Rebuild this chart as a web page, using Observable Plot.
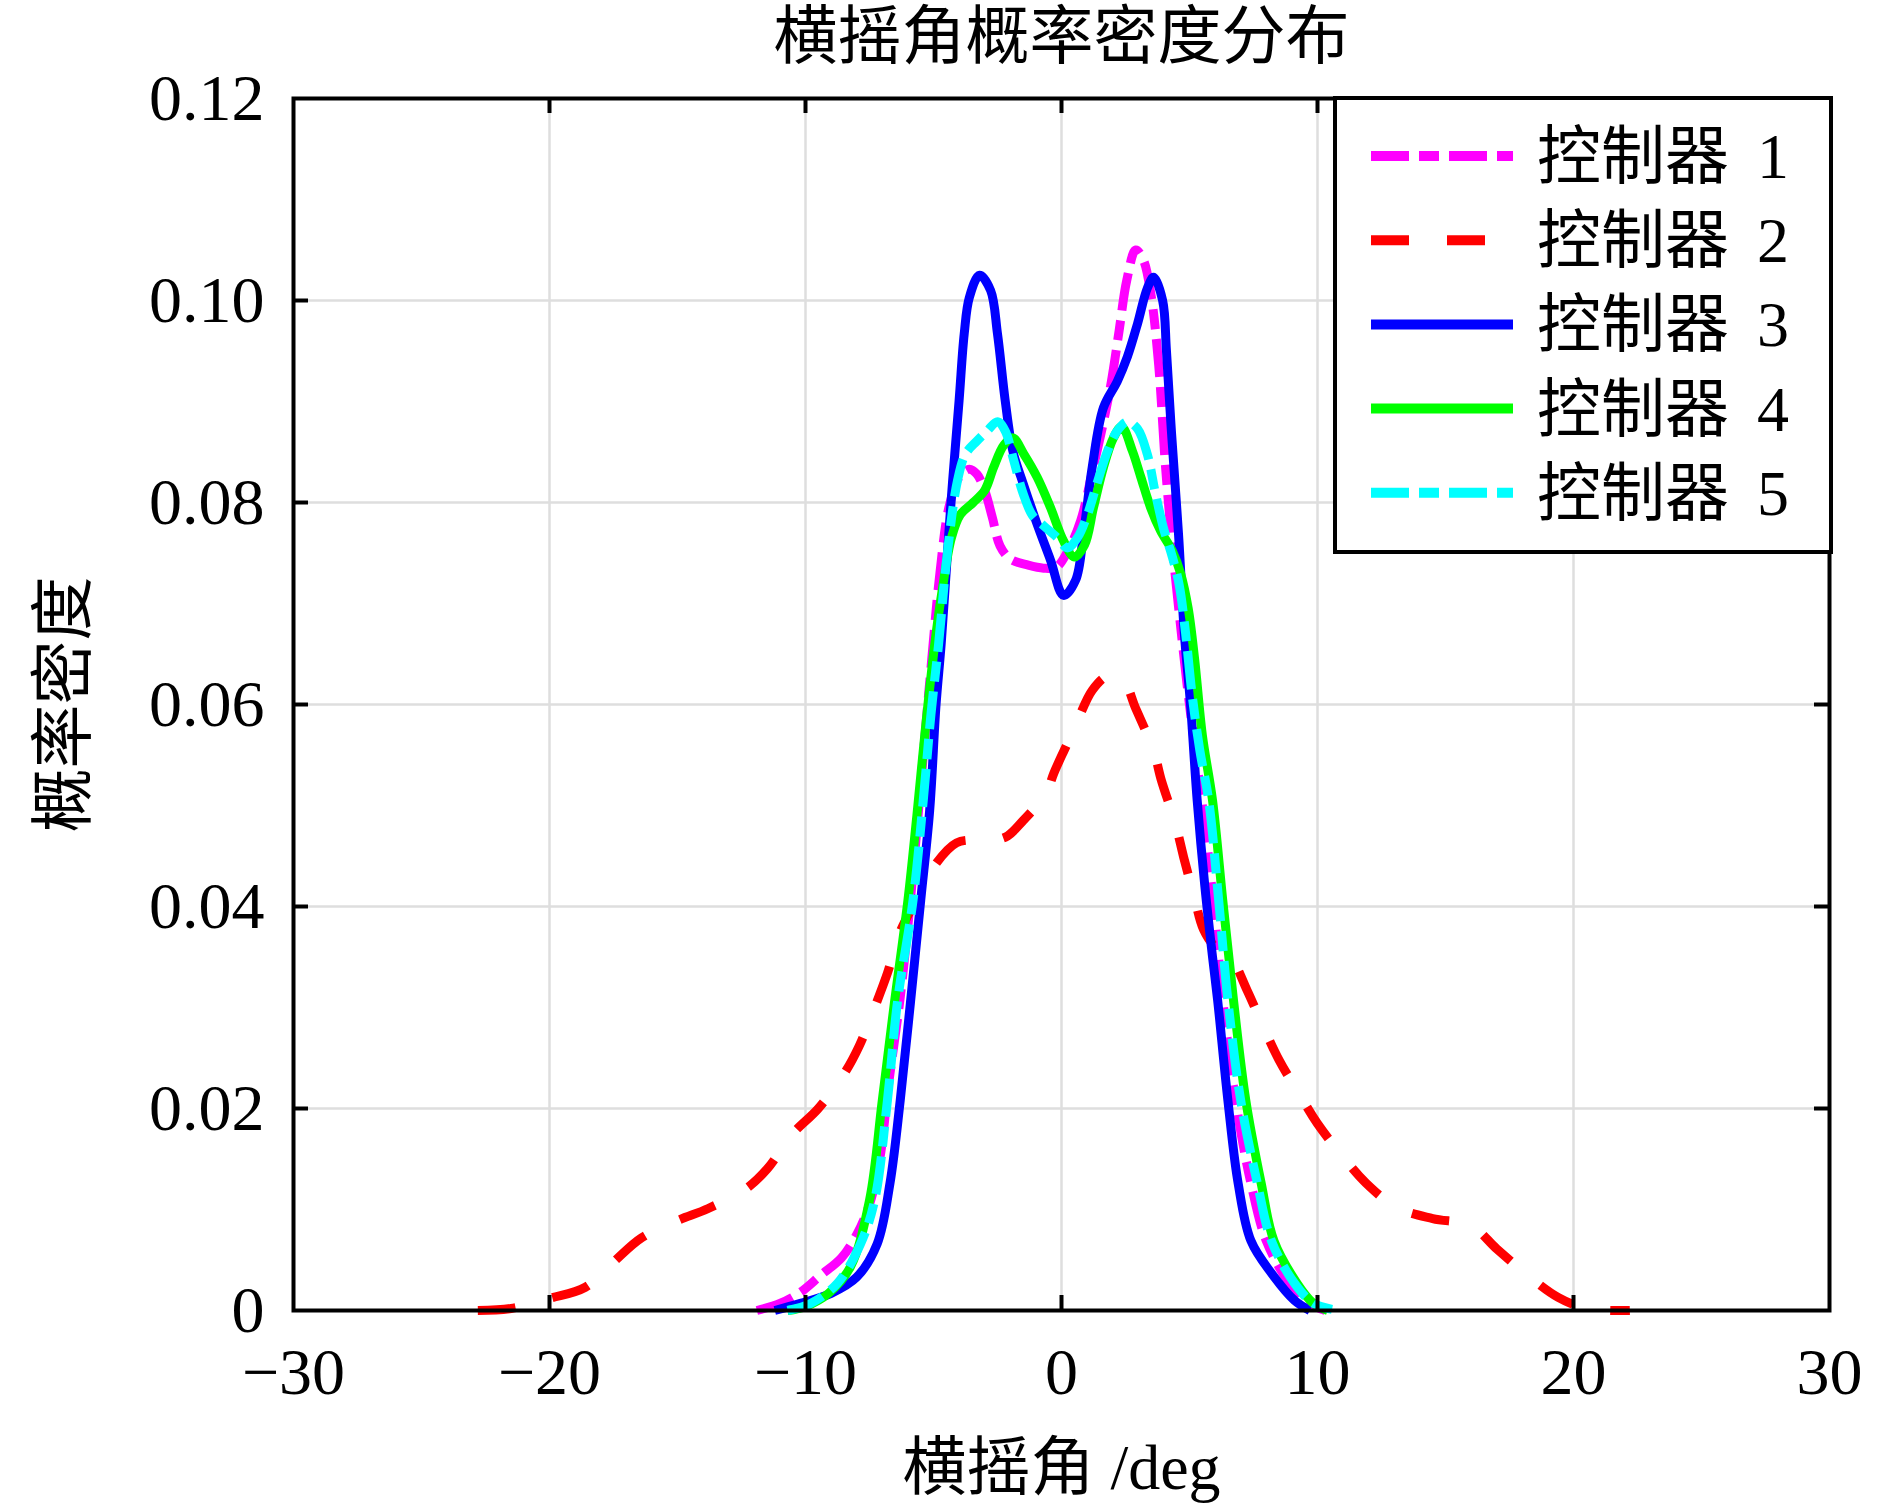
<!DOCTYPE html>
<html><head><meta charset="utf-8">
<script src="https://cdn.jsdelivr.net/npm/d3@7"></script>
<script src="https://cdn.jsdelivr.net/npm/@observablehq/plot@0.6"></script>
<style>
html,body{margin:0;padding:0;background:#fff;overflow:hidden;}
#wrap{position:relative;width:1890px;height:1507px;}
#legend{position:absolute;left:1333px;top:96px;}
</style></head><body>
<div id="wrap"></div>
<script>
// ---- tick values / labels ----
const xTicks = [-30, -20, -10, 0, 10, 20, 30];
const yTicks = [0, 0.02, 0.04, 0.06, 0.08, 0.10, 0.12];
const xGrid = [-20, -10, 0, 10, 20];
const yGrid = [0.02, 0.04, 0.06, 0.08, 0.10];
const titleText = "横摇角概率密度分布";
const xLabelText = "横摇角 /deg";
const yLabelText = "概率密度";
const seriesNames = ["控制器 1", "控制器 2", "控制器 3", "控制器 4", "控制器 5"];
const seriesColors = ["#ff00ff", "#ff0000", "#0000ff", "#00ff00", "#00ffff"];
const seriesDash = ["38,10,20,10", "38,38", null, null, "38,10,20,10"];

// ---- series values [angle deg, density] ----
const ctrl1 = [[-11.9,0],[-11.0,0.0007],[-10.2,0.0018],[-9.4,0.0035],[-8.6,0.0052],[-8.0,0.0075],[-7.5,0.0105],[-7.1,0.0150],[-6.75,0.0225],[-6.3,0.0310],[-5.85,0.0420],[-5.45,0.0535],[-5.05,0.0650],[-4.75,0.0730],[-4.4,0.0795],[-4.0,0.0825],[-3.6,0.0833],[-3.3,0.0828],[-3.0,0.0812],[-2.7,0.0785],[-2.4,0.0757],[-2.0,0.0744],[-1.3,0.0738],[-0.7,0.0735],[-0.2,0.0736],[0.25,0.0752],[0.75,0.0782],[1.2,0.0830],[1.6,0.0875],[1.95,0.0920],[2.25,0.0970],[2.55,0.1020],[2.9,0.1050],[3.2,0.1040],[3.5,0.1005],[3.8,0.0935],[4.05,0.0840],[4.3,0.0765],[4.6,0.0690],[4.95,0.0610],[5.3,0.0540],[5.6,0.0480],[5.95,0.0400],[6.3,0.0307],[6.8,0.0208],[7.4,0.0126],[8.0,0.0069],[8.9,0.0027],[9.6,0.0008],[10.3,0]];
const ctrl2 = [[-22.8,0],[-21.5,0.0002],[-20,0.0012],[-18.6,0.0023],[-17.5,0.0048],[-16.4,0.0072],[-15,0.0089],[-13.8,0.0101],[-12.3,0.0121],[-11.5,0.0140],[-10.5,0.0175],[-9.5,0.0200],[-8.5,0.0234],[-7.9,0.0262],[-7.3,0.0300],[-6.8,0.0334],[-6.3,0.0375],[-5.6,0.0410],[-5.0,0.0439],[-4.1,0.0463],[-3.3,0.0466],[-2.6,0.0466],[-2.1,0.0470],[-1.5,0.0485],[-0.6,0.0512],[-0.3,0.0532],[0.2,0.0560],[0.66,0.0586],[1.2,0.0614],[1.8,0.0628],[2.4,0.0624],[2.9,0.0596],[3.6,0.0554],[3.9,0.0525],[4.45,0.0482],[4.77,0.0449],[5.17,0.0411],[5.55,0.0377],[6.0,0.0360],[6.6,0.0350],[7.25,0.0317],[7.9,0.0280],[8.5,0.0248],[9.27,0.0215],[10,0.0185],[11,0.0152],[11.9,0.0126],[13.1,0.0102],[14.5,0.0091],[16,0.0084],[17,0.0061],[18.2,0.0035],[19.4,0.0013],[20.5,0.0002],[22.2,0]];
const ctrl3 = [[-11.2,0],[-10.2,0.0007],[-9.0,0.0017],[-8.0,0.0033],[-7.2,0.0066],[-6.7,0.0126],[-6.3,0.0208],[-5.9,0.0305],[-5.5,0.0406],[-5.15,0.0495],[-4.9,0.0600],[-4.7,0.0660],[-4.45,0.0752],[-4.26,0.0819],[-4.0,0.0901],[-3.8,0.0967],[-3.6,0.1003],[-3.2,0.1025],[-2.77,0.1010],[-2.5,0.0967],[-2.2,0.0901],[-1.9,0.0851],[-1.5,0.0819],[-1.0,0.0782],[-0.43,0.0743],[0.08,0.0708],[0.55,0.0723],[0.86,0.0769],[1.2,0.0835],[1.64,0.0894],[2.18,0.0920],[2.57,0.0944],[2.97,0.0977],[3.35,0.1012],[3.6,0.1023],[3.95,0.1000],[4.1,0.0950],[4.3,0.0868],[4.57,0.0769],[4.8,0.0670],[5.04,0.0600],[5.3,0.0505],[5.6,0.0420],[5.9,0.0350],[6.1,0.0307],[6.5,0.0208],[6.9,0.0126],[7.4,0.0069],[8.2,0.0037],[9.1,0.0010],[9.7,0]];
const ctrl4 = [[-10.7,0],[-10.0,0.0004],[-9.1,0.0017],[-8.25,0.0043],[-7.5,0.0109],[-7.0,0.0208],[-6.55,0.0300],[-6.0,0.0406],[-5.65,0.0490],[-5.3,0.0580],[-4.95,0.0660],[-4.65,0.0715],[-4.3,0.0765],[-3.95,0.0788],[-3.45,0.0800],[-3.0,0.0812],[-2.65,0.0835],[-2.25,0.0857],[-1.9,0.0864],[-1.47,0.0848],[-0.95,0.0825],[-0.43,0.0795],[0.08,0.0762],[0.5,0.0746],[0.9,0.0758],[1.25,0.0795],[1.64,0.0835],[2.03,0.0864],[2.35,0.0875],[2.77,0.0851],[3.1,0.0825],[3.48,0.0795],[3.87,0.0772],[4.33,0.0752],[4.65,0.0730],[4.95,0.0695],[5.2,0.0645],[5.5,0.0570],[5.9,0.0505],[6.3,0.0406],[6.72,0.0307],[7.2,0.0208],[7.8,0.0126],[8.3,0.0069],[9.2,0.0027],[9.8,0.0008],[10.4,0]];
const ctrl5 = [[-10.7,0],[-9.8,0.0007],[-8.75,0.0027],[-7.85,0.0066],[-7.3,0.0109],[-6.8,0.0208],[-6.4,0.0307],[-5.8,0.0406],[-5.4,0.0505],[-5.1,0.0590],[-4.8,0.0660],[-4.45,0.0752],[-4.06,0.0822],[-3.75,0.0848],[-3.3,0.0861],[-2.9,0.0871],[-2.5,0.0880],[-2.2,0.0871],[-1.87,0.0842],[-1.5,0.0809],[-1.13,0.0787],[-0.7,0.0777],[-0.16,0.0765],[0.23,0.0755],[0.62,0.0765],[1.0,0.0787],[1.4,0.0820],[1.8,0.0851],[2.18,0.0871],[2.57,0.0880],[2.97,0.0873],[3.35,0.0848],[3.67,0.0809],[3.98,0.0775],[4.33,0.0746],[4.6,0.0718],[4.85,0.0670],[5.1,0.0610],[5.4,0.0555],[5.75,0.0505],[6.14,0.0406],[6.5,0.0307],[7.0,0.0208],[7.65,0.0126],[8.2,0.0069],[9.1,0.0027],[9.85,0.0007],[10.8,0]];
const allSeries = [ctrl1, ctrl2, ctrl3, ctrl4, ctrl5];

// ---- layout ----
const W = 1890, H = 1507, mL = 293, mR = 61, mT = 98, mB = 197;
const innerW = W - mL - mR, innerH = H - mT - mB;
const serif = "'Liberation Serif','Noto Sans CJK SC',serif";
const cjk = "'Liberation Serif','Noto Sans CJK SC',sans-serif";
const LW = 9, TL = 15;

const lineMarks = allSeries.map((s, i) => Plot.line(s, {
  x: d => d[0], y: d => d[1],
  stroke: seriesColors[i], strokeWidth: LW,
  strokeDasharray: seriesDash[i] || undefined,
  strokeLinecap: "butt", strokeLinejoin: "round",
  curve: "catmull-rom"
}));

const fmtX = d => d < 0 ? "\u2212" + Math.abs(d) : String(d);
const fmtY = d => d === 0 ? "0" : d.toFixed(2);

const chart = Plot.plot({
  width: W, height: H,
  marginLeft: mL, marginRight: mR, marginTop: mT, marginBottom: mB,
  style: {fontFamily: serif, background: "white", overflow: "visible", color: "black"},
  x: {domain: [-30, 30]},
  y: {domain: [0, 0.12]},
  marks: [
    Plot.gridX(xGrid, {stroke: "#dedede", strokeOpacity: 1, strokeWidth: 2.5}),
    Plot.gridY(yGrid, {stroke: "#dedede", strokeOpacity: 1, strokeWidth: 2.5}),
    ...lineMarks,
    Plot.frame({stroke: "black", strokeWidth: 4}),
    Plot.tickX(xGrid, {x: d => d, stroke: "black", strokeWidth: 4, insetTop: innerH - TL}),
    Plot.tickX(xGrid, {x: d => d, stroke: "black", strokeWidth: 4, insetBottom: innerH - TL}),
    Plot.tickY(yGrid, {y: d => d, stroke: "black", strokeWidth: 4, insetRight: innerW - TL}),
    Plot.tickY(yGrid, {y: d => d, stroke: "black", strokeWidth: 4, insetLeft: innerW - TL}),
    Plot.axisX(xTicks, {tickSize: 0, tickPadding: 37, fontSize: 66, fontFamily: serif, tickFormat: fmtX, label: null}),
    Plot.axisY(yTicks, {tickSize: 0, tickPadding: 29, fontSize: 66, fontFamily: serif, tickFormat: fmtY, label: null}),
    Plot.text([titleText], {text: d => d, frameAnchor: "top", lineAnchor: "middle", textAnchor: "middle", dy: -61, fontSize: 64, fontFamily: cjk, fill: "black"}),
    Plot.text([xLabelText], {text: d => d, frameAnchor: "bottom", lineAnchor: "middle", textAnchor: "middle", dy: 158, fontSize: 64, fontFamily: cjk, fill: "black"}),
    Plot.text([yLabelText], {text: d => d, frameAnchor: "left", lineAnchor: "middle", textAnchor: "middle", dx: -229, rotate: -90, fontSize: 64, fontFamily: cjk, fill: "black"})
  ]
});
const wrap = document.getElementById("wrap");
wrap.appendChild(chart);

// ---- legend (overlay inside the top-right of the frame) ----
const legW = 500, legH = 458;
const leg = d3.select(wrap).append("div").attr("id", "legend")
  .append("svg").attr("width", legW).attr("height", legH);
leg.append("rect").attr("x", 2).attr("y", 2).attr("width", legW - 4).attr("height", legH - 4)
  .attr("fill", "white").attr("stroke", "black").attr("stroke-width", 4);
const rowY = i => 60 + i * 84.2;
seriesNames.forEach((name, i) => {
  leg.append("line").attr("x1", 38).attr("x2", 180).attr("y1", rowY(i)).attr("y2", rowY(i))
    .attr("stroke", seriesColors[i]).attr("stroke-width", 10)
    .attr("stroke-dasharray", seriesDash[i] || null);
  const parts = name.split(" ");
  const t = leg.append("text").attr("x", 204).attr("y", rowY(i)).attr("dominant-baseline", "central")
    .attr("font-family", cjk).attr("font-size", 64).attr("fill", "black");
  t.append("tspan").text(parts[0] + " ");
  t.append("tspan").attr("dx", 12).text(parts[1]);
});
</script>
</body></html>
